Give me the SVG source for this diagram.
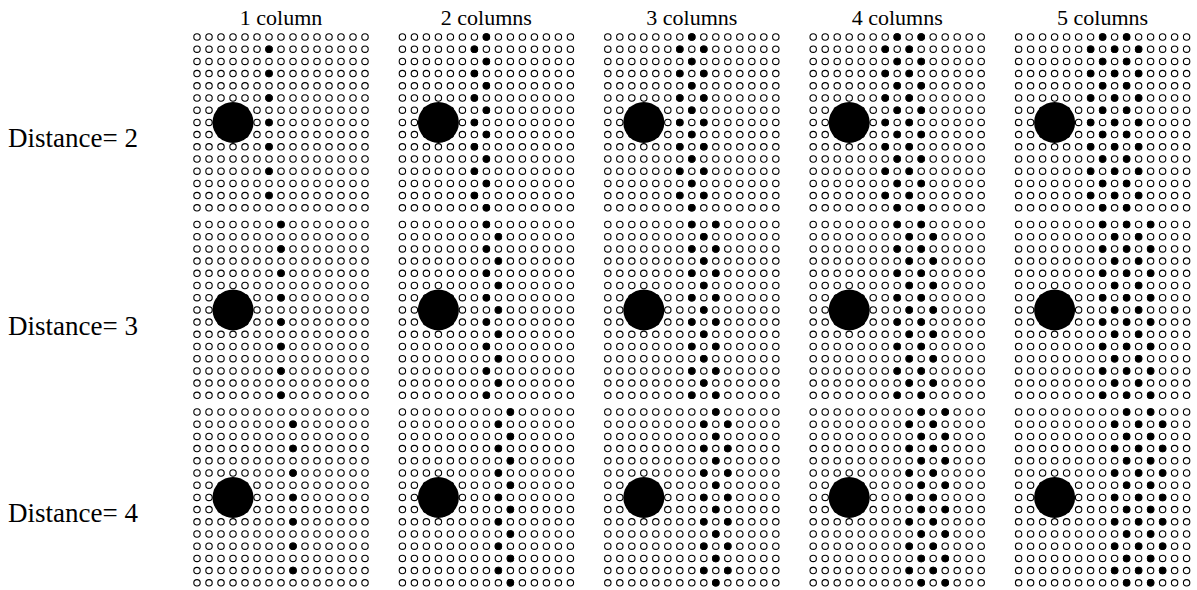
<svg xmlns="http://www.w3.org/2000/svg" width="1197" height="590" viewBox="0 0 1197 590">
<style>
.o{fill:#fff;stroke:#000;stroke-width:1.1}
.f{fill:#000;stroke:#000;stroke-width:1.1}
.big{fill:#000}
.t{font-family:"Liberation Serif","Times New Roman",serif;fill:#000}
.h{font-size:22px}
.l{font-size:27px}
</style>
<defs>
<g id="row" class="o">
<circle cx="0" cy="0" r="3.2"/><circle cx="12" cy="0" r="3.2"/><circle cx="24" cy="0" r="3.2"/><circle cx="36" cy="0" r="3.2"/><circle cx="48" cy="0" r="3.2"/><circle cx="60" cy="0" r="3.2"/><circle cx="72" cy="0" r="3.2"/><circle cx="84" cy="0" r="3.2"/><circle cx="96" cy="0" r="3.2"/><circle cx="108" cy="0" r="3.2"/><circle cx="120" cy="0" r="3.2"/><circle cx="132" cy="0" r="3.2"/><circle cx="144" cy="0" r="3.2"/><circle cx="156" cy="0" r="3.2"/><circle cx="168" cy="0" r="3.2"/>
</g>
<g id="grid">
<use href="#row" y="0"/><use href="#row" y="12.2"/><use href="#row" y="24.4"/><use href="#row" y="36.6"/><use href="#row" y="48.8"/><use href="#row" y="61"/><use href="#row" y="73.2"/><use href="#row" y="85.4"/><use href="#row" y="97.6"/><use href="#row" y="109.8"/><use href="#row" y="122"/><use href="#row" y="134.2"/><use href="#row" y="146.4"/><use href="#row" y="158.6"/><use href="#row" y="170.8"/>
</g>
<g id="ev" class="f">
<circle cx="0" cy="0" r="3.2"/><circle cx="0" cy="24.4" r="3.2"/><circle cx="0" cy="48.8" r="3.2"/><circle cx="0" cy="73.2" r="3.2"/><circle cx="0" cy="97.6" r="3.2"/><circle cx="0" cy="122" r="3.2"/><circle cx="0" cy="146.4" r="3.2"/><circle cx="0" cy="170.8" r="3.2"/>
</g>
<g id="od" class="f">
<circle cx="0" cy="12.2" r="3.2"/><circle cx="0" cy="36.6" r="3.2"/><circle cx="0" cy="61" r="3.2"/><circle cx="0" cy="85.4" r="3.2"/><circle cx="0" cy="109.8" r="3.2"/><circle cx="0" cy="134.2" r="3.2"/><circle cx="0" cy="158.6" r="3.2"/>
</g>
<circle id="bigc" class="big" cx="36" cy="85.4" r="20.5"/>
</defs>

<g id="headers" class="t h" text-anchor="middle">
<text x="281" y="25">1 column</text>
<text x="486.4" y="25">2 columns</text>
<text x="691.8" y="25">3 columns</text>
<text x="897.2" y="25">4 columns</text>
<text x="1102.6" y="25">5 columns</text>
</g>
<g id="rowlabels" class="t l">
<text x="8" y="147">Distance= 2</text>
<text x="8" y="335">Distance= 3</text>
<text x="8" y="522">Distance= 4</text>
</g>

<!-- Distance 2 -->
<g id="d2c1" transform="translate(197,37)"><use href="#grid"/><use href="#od" x="72"/><use href="#bigc"/></g>
<g id="d2c2" transform="translate(402.4,37)"><use href="#grid"/><use href="#ev" x="84"/><use href="#od" x="72"/><use href="#bigc"/></g>
<g id="d2c3" transform="translate(607.8,37)"><use href="#grid"/><use href="#ev" x="84"/><use href="#od" x="72"/><use href="#od" x="96"/><use href="#bigc"/></g>
<g id="d2c4" transform="translate(813.2,37)"><use href="#grid"/><use href="#ev" x="84"/><use href="#ev" x="108"/><use href="#od" x="72"/><use href="#od" x="96"/><use href="#bigc"/></g>
<g id="d2c5" transform="translate(1018.6,37)"><use href="#grid"/><use href="#ev" x="84"/><use href="#ev" x="108"/><use href="#od" x="72"/><use href="#od" x="96"/><use href="#od" x="120"/><use href="#bigc"/></g>

<!-- Distance 3 -->
<g id="d3c1" transform="translate(197,224.5)"><use href="#grid"/><use href="#ev" x="84"/><use href="#bigc"/></g>
<g id="d3c2" transform="translate(402.4,224.5)"><use href="#grid"/><use href="#ev" x="84"/><use href="#od" x="96"/><use href="#bigc"/></g>
<g id="d3c3" transform="translate(607.8,224.5)"><use href="#grid"/><use href="#ev" x="84"/><use href="#ev" x="108"/><use href="#od" x="96"/><use href="#bigc"/></g>
<g id="d3c4" transform="translate(813.2,224.5)"><use href="#grid"/><use href="#ev" x="84"/><use href="#ev" x="108"/><use href="#od" x="96"/><use href="#od" x="120"/><use href="#bigc"/></g>
<g id="d3c5" transform="translate(1018.6,224.5)"><use href="#grid"/><use href="#ev" x="84"/><use href="#ev" x="108"/><use href="#ev" x="132"/><use href="#od" x="96"/><use href="#od" x="120"/><use href="#bigc"/></g>

<!-- Distance 4 -->
<g id="d4c1" transform="translate(197,412)"><use href="#grid"/><use href="#od" x="96"/><use href="#bigc"/></g>
<g id="d4c2" transform="translate(402.4,412)"><use href="#grid"/><use href="#ev" x="108"/><use href="#od" x="96"/><use href="#bigc"/></g>
<g id="d4c3" transform="translate(607.8,412)"><use href="#grid"/><use href="#ev" x="108"/><use href="#od" x="96"/><use href="#od" x="120"/><use href="#bigc"/></g>
<g id="d4c4" transform="translate(813.2,412)"><use href="#grid"/><use href="#ev" x="108"/><use href="#ev" x="132"/><use href="#od" x="96"/><use href="#od" x="120"/><use href="#bigc"/></g>
<g id="d4c5" transform="translate(1018.6,412)"><use href="#grid"/><use href="#ev" x="108"/><use href="#ev" x="132"/><use href="#od" x="96"/><use href="#od" x="120"/><use href="#od" x="144"/><use href="#bigc"/></g>
</svg>
